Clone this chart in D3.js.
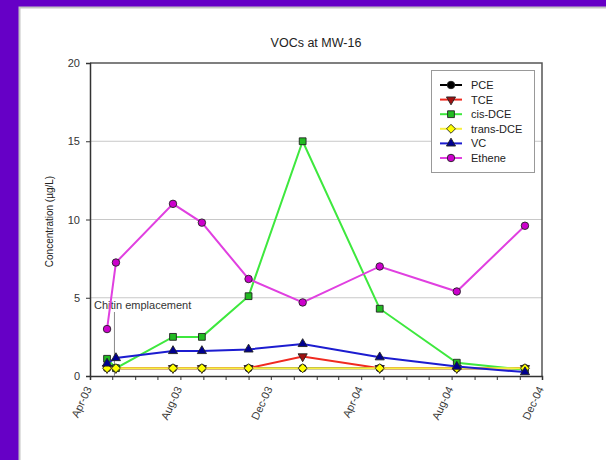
<!DOCTYPE html>
<html>
<head>
<meta charset="utf-8">
<script src="https://cdn.jsdelivr.net/npm/d3@7"></script>
<style>
  html, body { margin: 0; padding: 0; background: #6600c6; }
  svg { display: block; }
  text { font-family: "Liberation Sans", Arial, sans-serif; }
</style>
</head>
<body>
<svg id="chart" width="606" height="460"></svg>
<script>
// Sampling dates at MW-16
const sampleDates = ["2003-04-24", "2003-05-06", "2003-07-22", "2003-08-30", "2003-11-01",
                     "2004-01-13", "2004-04-26", "2004-08-08", "2004-11-08"];

// Concentrations (ug/L)
const pce      = [0.5, 0.5, 0.5, 0.5, 0.5, 0.5, 0.5, 0.5, 0.5];
const tce      = [0.5, 0.5, 0.5, 0.5, 0.5, 1.25, 0.5, 0.5, 0.5];
const cisDce   = [1.1, 0.5, 2.5, 2.5, 5.1, 15.0, 4.3, 0.85, 0.4];
const transDce = [0.5, 0.5, 0.5, 0.5, 0.5, 0.5, 0.5, 0.5, 0.5];
const vc       = [0.8, 1.15, 1.6, 1.6, 1.7, 2.05, 1.2, 0.6, 0.25];
const ethene   = [3.0, 7.25, 11.0, 9.8, 6.2, 4.7, 7.0, 5.4, 9.6];

const seriesNames = ["PCE", "TCE", "cis-DCE", "trans-DCE", "VC", "Ethene"];
const yTicks = [0, 5, 10, 15, 20];
const chitinDate = "2003-05-04";

const parse = d3.timeParse("%Y-%m-%d");
const dates = sampleDates.map(parse);

const series = [
  { name: "PCE",       values: pce,      line: "#000000", fill: "#000000", shape: "circle" },
  { name: "TCE",       values: tce,      line: "#f02a20", fill: "#a01010", shape: "triDown" },
  { name: "cis-DCE",   values: cisDce,   line: "#3ee83e", fill: "#22bb22", shape: "square" },
  { name: "trans-DCE", values: transDce, line: "#f8f040", fill: "#ffff00", shape: "diamond" },
  { name: "VC",        values: vc,       line: "#1c1cd0", fill: "#000090", shape: "triUp" },
  { name: "Ethene",    values: ethene,   line: "#e040e0", fill: "#cc00cc", shape: "circle" }
];

const svg = d3.select("#chart");

// white panel
svg.append("rect")
  .attr("x", 19.5).attr("y", 7.5)
  .attr("width", 600).attr("height", 460)
  .attr("fill", "#ffffff")
  .attr("stroke", "#c4c4c4").attr("stroke-width", 2);

const plot = { left: 90, right: 542, top: 63, bottom: 376 };

const x = d3.scaleTime()
  .domain([parse("2003-04-01"), parse("2004-12-01")])
  .range([plot.left, plot.right]);

const y = d3.scaleLinear()
  .domain([0, 20])
  .range([plot.bottom, plot.top]);

// title
svg.append("text")
  .attr("x", 316).attr("y", 47)
  .attr("text-anchor", "middle")
  .attr("font-size", 12.5)
  .attr("fill", "#222")
  .text("VOCs at MW-16");

// gridlines
svg.append("g")
  .selectAll("line")
  .data(yTicks.filter(v => v > 0 && v < 20))
  .join("line")
  .attr("x1", plot.left).attr("x2", plot.right)
  .attr("y1", d => y(d)).attr("y2", d => y(d))
  .attr("stroke", "#c8c8c8").attr("stroke-width", 1);

// plot frame (top and right)
svg.append("path")
  .attr("d", `M${plot.left},${plot.top}H${plot.right}V${plot.bottom}`)
  .attr("fill", "none")
  .attr("stroke", "#555").attr("stroke-width", 1.5);

// y axis
const yAxis = svg.append("g")
  .attr("transform", `translate(${plot.left},0)`)
  .call(d3.axisLeft(y).tickValues(yTicks).tickSize(4).tickPadding(6).tickFormat(d3.format("d")));
yAxis.select(".domain").attr("stroke", "#333").attr("stroke-width", 1.5);
yAxis.selectAll(".tick line").attr("stroke", "#333");
yAxis.selectAll(".tick text")
  .attr("font-size", 11).attr("fill", "#333")
  .style("font-family", "'Liberation Sans', Arial, sans-serif");

// y axis title
svg.append("text")
  .attr("transform", `translate(53,${(plot.top + plot.bottom) / 2 + 2}) rotate(-90)`)
  .attr("text-anchor", "middle")
  .attr("font-size", 10)
  .attr("fill", "#222")
  .text("Concentration (µg/L)");

// x axis: monthly ticks, labels every 4 months
const xAxis = svg.append("g")
  .attr("transform", `translate(0,${plot.bottom})`)
  .call(d3.axisBottom(x)
    .ticks(d3.timeMonth.every(1))
    .tickSize(4)
    .tickFormat(d => (d.getMonth() % 4 === 3 ? d3.timeFormat("%b-%y")(d) : "")));
xAxis.select(".domain").attr("stroke", "#333").attr("stroke-width", 1.5);
xAxis.selectAll(".tick line").attr("stroke", "#333");
xAxis.selectAll(".tick text")
  .attr("font-size", 11).attr("fill", "#3a3a3a")
  .style("font-family", "'Liberation Sans', Arial, sans-serif")
  .attr("text-anchor", "end")
  .attr("dy", "0.35em")
  .attr("transform", "translate(-2,11) rotate(-65)")
  .attr("x", 0).attr("y", 0);

// chitin emplacement marker
const cx = x(parse(chitinDate));
svg.append("line")
  .attr("x1", cx).attr("x2", cx)
  .attr("y1", 312).attr("y2", plot.bottom)
  .attr("stroke", "#888").attr("stroke-width", 1);
svg.append("text")
  .attr("x", 94).attr("y", 309)
  .attr("font-size", 11)
  .attr("fill", "#333")
  .text("Chitin emplacement");

// square-proportioned diamond
const wideDiamond = {
  draw(ctx, size) {
    const r = Math.sqrt(size / 2);
    ctx.moveTo(0, -r);
    ctx.lineTo(r, 0);
    ctx.lineTo(0, r);
    ctx.lineTo(-r, 0);
    ctx.closePath();
  }
};

// marker symbols
function marker(g, shape, fill) {
  const s = {
    circle:  d3.symbol(d3.symbolCircle, 44),
    square:  d3.symbol(d3.symbolSquare, 46),
    diamond: d3.symbol(wideDiamond, 40),
    triUp:   d3.symbol(d3.symbolTriangle, 36),
    triDown: d3.symbol(d3.symbolTriangle, 36)
  }[shape];
  g.append("path")
    .attr("d", s())
    .attr("transform", shape === "triDown" ? "rotate(180)" : null)
    .attr("fill", fill)
    .attr("stroke", "#222").attr("stroke-width", 0.9)
    .attr("stroke-linejoin", "round");
}

const line = d3.line()
  .x((d, i) => x(dates[i]))
  .y(d => y(d));

series.forEach(s => {
  const g = svg.append("g");
  g.append("path")
    .attr("d", line(s.values))
    .attr("fill", "none")
    .attr("stroke", s.line).attr("stroke-width", 2);
  s.values.forEach((v, i) => {
    const m = g.append("g").attr("transform", `translate(${x(dates[i])},${y(v)})`);
    marker(m, s.shape, s.fill);
  });
});

// legend
const legend = svg.append("g").attr("transform", "translate(431,70)");
legend.append("rect")
  .attr("x", 0.5).attr("y", 0.5)
  .attr("width", 103).attr("height", 102)
  .attr("fill", "#fff")
  .attr("stroke", "#999").attr("stroke-width", 1);
series.forEach((s, i) => {
  const ly = 15 + i * 14.6;
  const g = legend.append("g").attr("transform", `translate(0,${ly})`);
  g.append("line")
    .attr("x1", 9).attr("x2", 31).attr("y1", 0).attr("y2", 0)
    .attr("stroke", s.line).attr("stroke-width", 2);
  const m = g.append("g").attr("transform", "translate(20,0)");
  marker(m, s.shape, s.fill);
  g.append("text")
    .attr("x", 40).attr("y", 4)
    .attr("font-size", 11)
    .attr("fill", "#222")
    .text(seriesNames[i]);
});
</script>
</body>
</html>
